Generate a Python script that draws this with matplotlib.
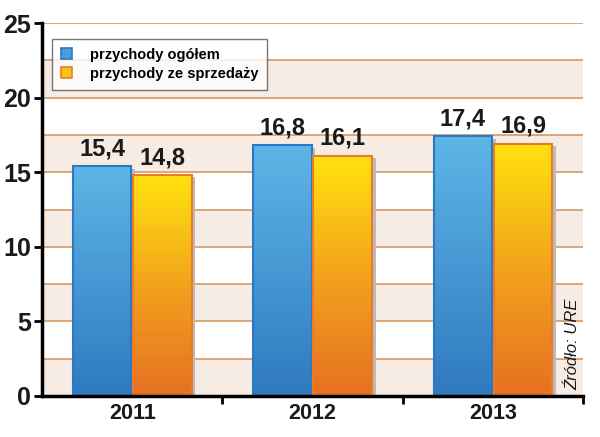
import matplotlib
matplotlib.use("Agg")
import matplotlib.pyplot as plt
import numpy as np
from matplotlib.patches import Patch
from matplotlib.colors import LinearSegmentedColormap

years = ['2011', '2012', '2013']
ogolem = [15.4, 16.8, 17.4]
sprzedaz = [14.8, 16.1, 16.9]
labels_ogolem = ['15,4', '16,8', '17,4']
labels_sprzedaz = ['14,8', '16,1', '16,9']
series_names = ['przychody ogółem', 'przychody ze sprzedaży']
band_starts = [0, 5, 10, 15, 20]
grid_levels = [2.5, 5, 7.5, 10, 12.5, 15, 17.5, 20, 22.5, 25]

plt.rcParams['font.family'] = ['Liberation Sans', 'DejaVu Sans']

fig = plt.figure(figsize=(6.0, 4.37), dpi=100)
ax = fig.add_axes([0.07, 0.094, 0.902, 0.853])
ax.set_xlim(-0.5, 2.5)
ax.set_ylim(0, 25)
ax.set_autoscale_on(False)

ax.barh(band_starts, 3.0, height=2.5, left=-0.5, align='edge',
        color='#F6ECE4', lw=0, zorder=0.5)
for g in grid_levels:
    ax.plot([-0.5, 2.5], [g, g], color='#D9A06E', lw=1.3, zorder=1)

x = np.arange(len(years))
w = 0.325
off = 0.167

blue_cmap = LinearSegmentedColormap.from_list('b', ['#2F79BF', '#5DB5E6'])
orange_cmap = LinearSegmentedColormap.from_list('o', ['#E56F22', '#F2A21C', '#FFE20E'])

N = 80
for xs, vals, cmap, ec in [(x - off, ogolem, blue_cmap, '#2A78C6'),
                           (x + off, sprzedaz, orange_cmap, '#EE7A28')]:
    ax.bar(xs + 0.02, np.array(vals) - 0.15, w, color='#BBBBBB', lw=0, zorder=2)
    for xi, v in zip(xs, vals):
        edges = np.linspace(0, v, N + 1)
        cols = cmap((edges[:-1] + edges[1:]) / 2 / v)
        ax.bar(np.full(N, xi), np.diff(edges) * 1.02, w, bottom=edges[:-1],
               color=cols, lw=0, zorder=3)
    ax.bar(xs, vals, w, facecolor='none', edgecolor=ec, lw=1.5, zorder=4)

for xi, v, t in zip(x - off, ogolem, labels_ogolem):
    ax.text(xi, v + 0.4, t, ha='center', va='bottom', fontsize=17, fontweight='bold', color='#1A1A1A', zorder=5)
for xi, v, t in zip(x + off, sprzedaz, labels_sprzedaz):
    ax.text(xi, v + 0.4, t, ha='center', va='bottom', fontsize=17, fontweight='bold', color='#1A1A1A', zorder=5)

ax.set_yticks([0, 5, 10, 15, 20, 25])
ax.set_yticklabels(['0', '5', '10', '15', '20', '25'], fontsize=18, fontweight='bold', color='#1A1A1A')
ax.set_xticks([0.5, 1.5, 2.5], minor=False)
ax.set_xticklabels([])
ax.set_xticks(x, minor=True)
ax.set_xticklabels(years, minor=True, fontsize=15.5, fontweight='bold', color='#1A1A1A')
ax.tick_params(axis='x', which='minor', length=0, pad=5)
ax.tick_params(axis='x', which='major', length=6, width=2, direction='out')
ax.tick_params(axis='y', length=6, width=2, direction='out', pad=2)

for s in ['top', 'right']:
    ax.spines[s].set_visible(False)
ax.spines['left'].set_linewidth(2.5)
ax.spines['bottom'].set_linewidth(2.5)
ax.spines['left'].set_zorder(6)
ax.spines['bottom'].set_zorder(6)

handles = [Patch(facecolor='#4A9ED8', edgecolor='#2A78C6', lw=1.2),
           Patch(facecolor='#F9C514', edgecolor='#EE7A28', lw=1.2)]
leg = ax.legend(handles, series_names, loc='upper left', bbox_to_anchor=(0.013, 0.965),
                prop={'weight': 'bold', 'size': 10.5}, frameon=True, fancybox=False,
                handlelength=0.8, handleheight=0.8, borderpad=0.6, labelspacing=0.35,
                handletextpad=1.2, borderaxespad=0.2)
leg.get_frame().set_edgecolor('#555555')
leg.get_frame().set_linewidth(1.0)
leg.set_zorder(7)

fig.text(0.955, 0.213, 'Źródło: URE', rotation=90, ha='center', va='center',
         fontsize=12, style='italic', color='#1A1A1A')

fig.savefig('out.png', dpi=100)
